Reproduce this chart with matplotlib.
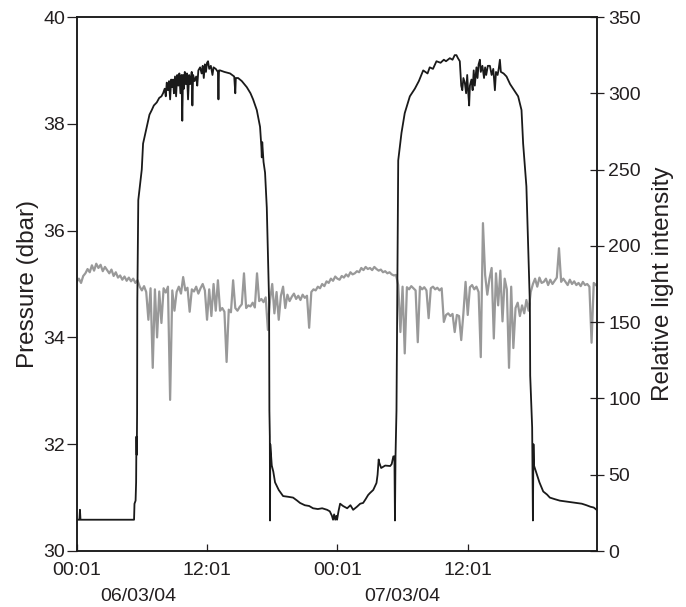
import numpy as np
import matplotlib
matplotlib.use("Agg")
import matplotlib.pyplot as plt
import matplotlib.transforms as mtransforms

plt.rcParams['font.family'] = ['Liberation Sans', 'DejaVu Sans']

# ---------------- data ----------------
# hours since 00:01 06/03/04
x_max = 47.9
tick_hours = [0, 12, 24, 36]
tick_labels = ["00:01", "12:01", "00:01", "12:01"]
date_hours = [5.65, 29.95]
date_labels = ["06/03/04", "07/03/04"]

# Pressure (dbar), sampled every 0.2 h from 0.0 h
pressure_step = 0.2
pressure = [
    35.04, 35.10, 35.02, 35.15, 35.20,
    35.28, 35.22, 35.35, 35.25, 35.38,
    35.30, 35.36, 35.24, 35.32, 35.26,
    35.20, 35.27, 35.15, 35.22, 35.12,
    35.16, 35.08, 35.14, 35.06, 35.12,
    35.05, 35.10, 35.02, 35.07, 34.95,
    34.88, 34.96, 34.85, 34.33, 34.92,
    33.43, 34.90, 34.00, 34.86, 34.27,
    34.92, 34.84, 34.95, 32.83, 34.88,
    34.50, 34.85, 34.95, 34.82, 35.13,
    34.88, 34.93, 34.48, 34.90, 34.86,
    34.95, 34.82, 34.92, 35.00, 34.88,
    34.33, 34.90, 34.40, 35.00, 34.50,
    35.07, 34.50, 34.55, 34.48, 33.54,
    34.52, 34.47, 35.07, 34.55, 34.50,
    34.57, 34.62, 35.20, 34.55, 34.60,
    34.58, 34.65, 34.56, 35.20, 34.68,
    34.72, 34.66, 34.75, 34.14, 34.70,
    35.00, 34.45, 34.85, 34.33, 34.78,
    34.95, 34.55, 34.80, 34.68, 34.76,
    34.82, 34.72, 34.78, 34.70, 34.80,
    34.74, 34.78, 34.18, 34.85, 34.90,
    34.88, 34.95, 34.92, 35.00, 34.96,
    35.05, 35.02, 35.10, 35.06, 35.14,
    35.10, 35.08, 35.15, 35.12, 35.18,
    35.14, 35.22, 35.18, 35.20, 35.24,
    35.22, 35.30, 35.26, 35.32, 35.28,
    35.30, 35.26, 35.32, 35.28, 35.25,
    35.27, 35.22, 35.24, 35.20, 35.22,
    35.18, 35.16, 35.17, 34.98, 34.10,
    34.95, 33.70, 34.94, 34.90, 34.96,
    34.92, 34.88, 33.91, 34.95, 34.90,
    34.94, 34.88, 34.36, 34.92, 34.95,
    34.90, 34.93, 34.88, 34.92, 34.29,
    34.42, 34.45, 34.40, 34.44, 34.10,
    34.42, 34.40, 33.95, 34.45, 35.04,
    34.42, 34.94, 34.98, 34.90, 34.95,
    34.85, 33.63, 36.14, 35.17, 34.80,
    35.10, 35.30, 33.98, 35.20, 34.60,
    35.25, 34.30, 35.10, 34.90, 33.43,
    34.95, 33.80, 34.55, 34.65, 34.40,
    34.60, 34.45, 34.70, 34.50, 34.85,
    35.00, 35.10, 34.95, 35.12, 35.02,
    35.04, 35.10, 34.98, 35.08, 35.00,
    35.06, 35.12, 35.67, 35.04, 35.10,
    35.04, 34.98, 35.08, 35.00, 35.05,
    34.98, 35.02, 34.96, 35.04, 34.98,
    35.00, 34.95, 33.90, 35.02, 34.98,
]

# Relative light intensity: (hour, value)
light_time = [
    0.00, 0.25, 0.30, 0.35, 5.28, 5.32, 5.42, 5.47, 5.50, 5.53, 5.56, 5.58, 5.67,
    5.99, 6.11, 6.45, 6.70, 6.91, 7.10, 7.37, 7.60, 7.80, 7.95, 8.10, 8.20, 8.29,
    8.40, 8.50, 8.60, 8.70, 8.80, 8.87, 8.95, 9.05, 9.15, 9.25, 9.35, 9.45, 9.55,
    9.65, 9.72, 9.79, 9.88, 9.95, 10.05, 10.15, 10.25, 10.35, 10.45, 10.59, 10.65,
    10.72, 10.85, 11.00, 11.10, 11.20, 11.36, 11.50, 11.60, 11.70, 11.80, 11.90,
    12.00, 12.09, 12.20, 12.35, 12.50, 12.60, 12.80, 13.00, 13.05, 13.10, 13.20,
    13.60, 14.12, 14.50, 14.60, 14.65, 14.86, 15.20, 15.66, 16.00, 16.24, 16.58,
    16.88, 17.00, 17.04, 17.08, 17.20, 17.34, 17.50, 17.71, 17.74, 17.78, 17.80,
    17.82, 17.96, 18.10, 18.26, 18.60, 19.00, 19.50, 19.92, 20.30, 20.56, 21.00,
    21.40, 21.76, 22.20, 22.60, 23.05, 23.30, 23.50, 23.60, 23.70, 23.80, 23.90,
    23.97, 24.10, 24.25, 24.52, 24.90, 25.20, 25.45, 25.80, 26.10, 26.37, 26.60,
    26.83, 27.00, 27.30, 27.50, 27.60, 27.70, 27.80, 27.85, 28.03, 28.40, 28.86,
    29.00, 29.15, 29.25, 29.30, 29.35, 29.44, 29.60, 29.90, 30.20, 30.67, 31.13,
    31.50, 31.90, 32.30, 32.50, 32.80, 33.12, 33.50, 33.80, 34.00, 34.35, 34.60,
    34.80, 34.96, 35.10, 35.27, 35.40, 35.50, 35.60, 35.73, 35.85, 35.95, 36.05,
    36.13, 36.20, 36.34, 36.45, 36.55, 36.65, 36.80, 36.90, 37.00, 37.12, 37.20,
    37.35, 37.50, 37.60, 37.70, 37.85, 38.04, 38.20, 38.35, 38.50, 38.60, 38.75,
    38.85, 38.96, 39.05, 39.30, 39.57, 39.90, 40.18, 40.64, 40.95, 41.10, 41.40,
    41.57, 41.72, 41.75, 41.93, 42.00, 42.05, 42.10, 42.33, 42.60, 42.95, 43.30,
    43.56, 44.00, 44.48, 45.00, 45.50, 46.00, 46.50, 46.93, 47.30, 47.60, 47.86,
]
light = [
    20.5, 20.5, 27, 20.5, 20.5, 31, 33, 45, 75, 63, 90, 164, 230,
    250, 267, 278, 286, 289, 292, 294, 297, 298, 300, 303, 298, 307,
    302, 308, 296, 309, 304, 309, 300, 311, 298, 312, 305, 313, 300,
    312, 282, 312, 303, 314, 306, 313, 296, 312, 306, 314, 292,
    312, 308, 311, 305, 315, 317, 313, 318, 310, 319, 314,
    320, 321, 316, 318, 312, 317, 316, 314, 296, 315, 315,
    314, 313, 311, 300, 310, 310, 308, 304, 300, 296, 289,
    278, 265, 258, 268, 255, 248, 225, 164, 92, 75, 20,
    70, 56, 52, 45, 40, 36, 35.5, 35, 33, 31.5, 30,
    29.5, 28, 27.5, 28, 27, 26, 23, 20.5, 24, 20.5, 23,
    20.5, 26, 31, 29.5, 28, 30, 27, 29, 31, 31.5, 34,
    36.7, 38, 40, 43, 44.6, 50, 60, 58, 54.4, 56, 55.7,
    57, 62, 62, 20, 62, 92, 256, 274, 287, 298, 303,
    308, 315, 313, 317, 316, 321, 320, 322, 321, 323, 322,
    325, 325, 323, 321, 305, 302, 310, 307, 300, 312, 300,
    292, 305, 309, 302, 315, 305, 317, 310, 319, 322, 314,
    318, 310, 317, 312, 318, 318, 312, 316, 302, 314, 312,
    316, 322, 314, 313, 311, 306, 303, 298, 289, 267, 239,
    197, 162, 115, 81, 20, 70, 56, 51, 45, 39, 37,
    35, 34, 33, 32.5, 32, 31.5, 31, 30, 29, 28.5, 27,
]

# ---------------- plot ----------------
fig = plt.figure(figsize=(6.86, 6.07), dpi=100)
ax = fig.add_axes([76.7 / 686, 56 / 607, (597 - 76.7) / 686, (551 - 17) / 607])
ax2 = ax.twinx()

text_color = '#231f20'
p_time = np.arange(len(pressure)) * pressure_step
ax.plot(p_time, pressure, color='#999999', lw=1.6, zorder=2)
ax2.plot(light_time, light, color='#1a1a1a', lw=1.3, zorder=3)

ax.set_xlim(0, x_max)
ax.set_ylim(30, 40)
ax2.set_ylim(0, 350)
ax.set_yticks([30, 32, 34, 36, 38, 40])
ax2.set_yticks([0, 50, 100, 150, 200, 250, 300, 350])
ax.set_xticks(tick_hours)
ax.set_xticklabels(tick_labels)

for a in (ax, ax2):
    for s in a.spines.values():
        s.set_linewidth(1.1)
        s.set_color('#1a1a1a')

ax.tick_params(axis='y', direction='out', length=7, width=0.9, pad=1.5,
               labelsize=14, colors=text_color)
ax.tick_params(axis='x', direction='in', length=5, width=0.9, pad=8,
               labelsize=14, colors=text_color)
ax2.tick_params(axis='y', direction='inout', length=10, width=0.9, pad=3,
                labelsize=14, colors=text_color)

ax.set_ylabel("Pressure (dbar)", fontsize=17.5, color=text_color, labelpad=3)
ax2.set_ylabel("Relative light intensity", fontsize=17.5, color=text_color, labelpad=8)

trans = mtransforms.blended_transform_factory(ax.transData, ax.transAxes)
for h, lab in zip(date_hours, date_labels):
    ax.text(h, -0.086, lab, transform=trans, ha='center', va='center',
            fontsize=14, color=text_color, clip_on=False)

fig.savefig("out.png", dpi=100)
